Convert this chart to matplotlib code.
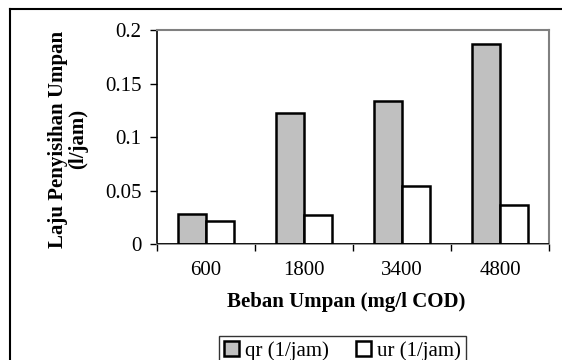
import numpy as np
import matplotlib
matplotlib.use("Agg")
import matplotlib.pyplot as plt
from matplotlib.lines import Line2D
from matplotlib.patches import Patch

categories = ["600", "1800", "3400", "4800"]
qr = [0.028, 0.123, 0.134, 0.187]
ur = [0.022, 0.027, 0.054, 0.037]
yticks = [0, 0.05, 0.1, 0.15, 0.2]
ytick_labels = ["0", "0.05", "0.1", "0.15", "0.2"]

plt.rcParams["font.family"] = ["Liberation Serif", "DejaVu Serif"]

W, H = 562, 360
fig = plt.figure(figsize=(W / 100, H / 100), dpi=100)
ax = fig.add_axes([157 / W, 1 - 244.3 / H, (549 - 157) / W, (244.3 - 30) / H])

x = np.arange(len(categories))
bw = 0.29
ax.bar(x - bw / 2, qr, bw, color="#c0c0c0", edgecolor="black", linewidth=1.8, zorder=3)
ax.bar(x + bw / 2, ur, bw, color="white", edgecolor="black", linewidth=1.8, zorder=3)

ax.set_xlim(-0.5, 3.5)
ax.set_ylim(0, 0.2)
ax.set_yticks(yticks)
ax.set_yticklabels(ytick_labels, fontsize=15)
ax.set_xticks(np.arange(-0.5, 3.6, 1.0))
ax.set_xticklabels([])
ax.set_xticks(x, minor=True)
ax.set_xticklabels(categories, minor=True, fontsize=15)
ax.tick_params(axis="x", which="minor", length=0, pad=12)
ax.tick_params(axis="x", which="major", length=5, width=1, direction="out")
ax.tick_params(axis="y", length=5, width=1, direction="out", pad=6)

ax.spines["top"].set_color("#808080")
ax.spines["right"].set_color("#808080")
ax.spines["top"].set_linewidth(1.5)
ax.spines["right"].set_linewidth(1.5)
ax.spines["left"].set_linewidth(1.2)
ax.spines["bottom"].set_linewidth(1.2)
ax.spines["bottom"].set_color("#808080")
ax.axhline(0, color="black", linewidth=1.2, zorder=4)

fig.text(68 / W, 1 - 139 / H, "Laju Penyisihan Umpan\n(l/jam)", rotation=90,
         ha="center", va="center", multialignment="center",
         fontsize=15, fontweight="bold", linespacing=1.0)
fig.text(346 / W, 1 - 302 / H, "Beban Umpan (mg/l COD)", ha="center", va="center",
         fontsize=15, fontweight="bold")

handles = [Patch(facecolor="#c0c0c0", edgecolor="black", linewidth=1.8),
           Patch(facecolor="white", edgecolor="black", linewidth=1.8)]
leg = fig.legend(handles, ["qr (1/jam)", "ur (1/jam)"], loc="upper center",
                 bbox_to_anchor=(342.5 / W, 1 - 336 / H), ncol=2, fontsize=15,
                 frameon=True, fancybox=False, handlelength=0.7, handleheight=0.7,
                 handletextpad=0.3, columnspacing=1.3, borderpad=0.25,
                 borderaxespad=0)
leg.get_frame().set_edgecolor("black")
leg.get_frame().set_linewidth(1.0)

fig.add_artist(Line2D([10 / W, 10 / W], [0, 1 - 9 / H], color="black", linewidth=1.5))
fig.add_artist(Line2D([10 / W, 1], [1 - 9 / H, 1 - 9 / H], color="black", linewidth=1.5))

fig.savefig("out.png", dpi=100)
